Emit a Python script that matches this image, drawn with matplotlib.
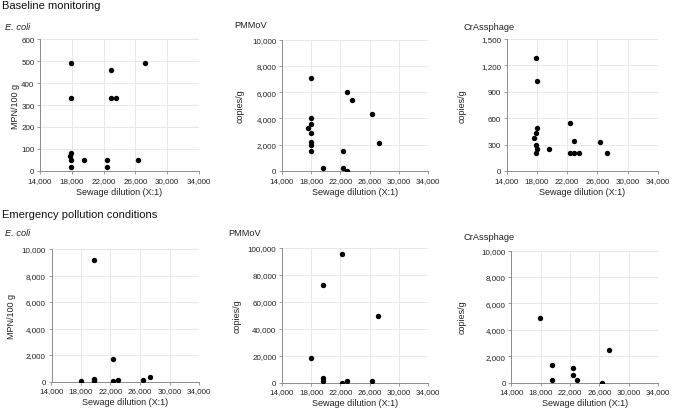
import matplotlib
matplotlib.use("Agg")
import matplotlib.pyplot as plt
from matplotlib.ticker import FuncFormatter, MultipleLocator

plt.rcParams['font.family'] = ['Liberation Sans', 'DejaVu Sans']

W, H = 676, 414

# ---- data ----
ecoli_base_x = [17900, 17900, 17750, 17950, 17950, 17950, 19550, 22400, 22400, 22950, 22950, 23600, 26350, 27250]
ecoli_base_y = [490, 330, 70, 80, 50, 20, 50, 50, 20, 460, 330, 330, 50, 490]

pmmov_base_x = [17950, 17600, 17950, 18000, 17950, 17950, 17950, 17950, 19550, 22950, 23600, 22300, 22350, 22950, 26350, 27300]
pmmov_base_y = [7050, 3300, 4000, 3550, 2900, 2200, 2000, 1550, 200, 6000, 5400, 1500, 200, 0, 4350, 2100]

crass_base_x = [17900, 18000, 18000, 17900, 17600, 17950, 18050, 17900, 19550, 22350, 22350, 22950, 22950, 23600, 26350, 27250]
crass_base_y = [1285, 1020, 490, 435, 370, 300, 255, 200, 255, 550, 200, 345, 200, 200, 335, 200]

ecoli_emerg_x = [19700, 19700, 19700, 19700, 18000, 22400, 22400, 23000, 26400, 27300]
ecoli_emerg_y = [9200, 180, 80, 20, 60, 1700, 60, 140, 140, 320]

pmmov_emerg_x = [17950, 19550, 19550, 19550, 22250, 22250, 22950, 26300, 27200]
pmmov_emerg_y = [18000, 72000, 3300, 1000, 95000, 0, 1000, 1300, 49000]

crass_emerg_x = [17850, 19550, 19550, 22350, 22350, 22950, 26350, 27300]
crass_emerg_y = [4900, 1300, 200, 1100, 550, 200, 0, 2500]

x_ticks = [14000, 18000, 22000, 26000, 30000, 34000]

panels = [
    # (x, y, title, italic, ylabel, ymax, ystep, axes px box (l, t, r, b), title pos, ylabel x)
    (ecoli_base_x, ecoli_base_y, "E. coli", True, "MPN/100 g", 600, 100, (40, 40, 199, 172), (5, 27), 15),
    (pmmov_base_x, pmmov_base_y, "PMMoV", False, "copies/g", 10000, 2000, (282, 40.5, 428, 172), (234, 25), 240),
    (crass_base_x, crass_base_y, "CrAssphage", False, "copies/g", 1500, 300, (506.5, 40, 658, 172), (464, 27), 462),
    (ecoli_emerg_x, ecoli_emerg_y, "E. coli", True, "MPN/100 g", 10000, 2000, (51.5, 250, 199, 382.5), (5, 234), 12),
    (pmmov_emerg_x, pmmov_emerg_y, "PMMoV", False, "copies/g", 100000, 20000, (282, 248.5, 428, 383.5), (228, 234), 237),
    (crass_emerg_x, crass_emerg_y, "CrAssphage", False, "copies/g", 10000, 2000, (511.5, 251.5, 658, 383.5), (463, 238), 462),
]

fig = plt.figure(figsize=(W / 100, H / 100), dpi=100)
fmt = FuncFormatter(lambda v, p: f"{int(round(v)):,}")

for i, (xs, ys, title, italic, ylabel, ymax, ystep, box, tpos, ylx) in enumerate(panels):
    l, t, r, b = box
    ax = fig.add_axes([l / W, 1 - b / H, (r - l) / W, (b - t) / H])
    ax.scatter(xs, ys, s=15, color='black', zorder=3, linewidths=0)
    ax.set_xlim(14000, 34000)
    ax.set_ylim(0, ymax)
    ax.set_xticks(x_ticks)
    ax.yaxis.set_major_locator(MultipleLocator(ystep))
    ax.xaxis.set_major_formatter(fmt)
    ax.yaxis.set_major_formatter(fmt)
    ax.grid(True, color='#e4e4e4', linewidth=0.6, zorder=0)
    ax.set_axisbelow(True)
    for s in ['top', 'right']:
        ax.spines[s].set_visible(False)
    for s in ['left', 'bottom']:
        ax.spines[s].set_color('#8c8c8c')
        ax.spines[s].set_linewidth(0.7)
    ax.tick_params(axis='both', labelsize=5.8, length=2.5, width=0.6, color='#8c8c8c', pad=1.5, labelcolor='#222222')
    ax.set_xlabel("Sewage dilution (X:1)", fontsize=6.5, labelpad=2.8 if i < 3 else 2.2, color='#222222')
    fig.text(ylx / W, 1 - ((t + b) / 2) / H, ylabel, rotation=90, fontsize=6.5,
             ha='center', va='center', color='#222222')
    fig.text(tpos[0] / W, 1 - tpos[1] / H, title, fontsize=6.7, ha='left', va='center',
             style='italic' if italic else 'normal', color='#222222')

fig.text(2 / W, 1 - 6 / H, "Baseline monitoring", fontsize=8, ha='left', va='center', color='#111111')
fig.text(2 / W, 1 - 215 / H, "Emergency pollution conditions", fontsize=8, ha='left', va='center', color='#111111')

fig.savefig("out.png", dpi=100, facecolor='white')
